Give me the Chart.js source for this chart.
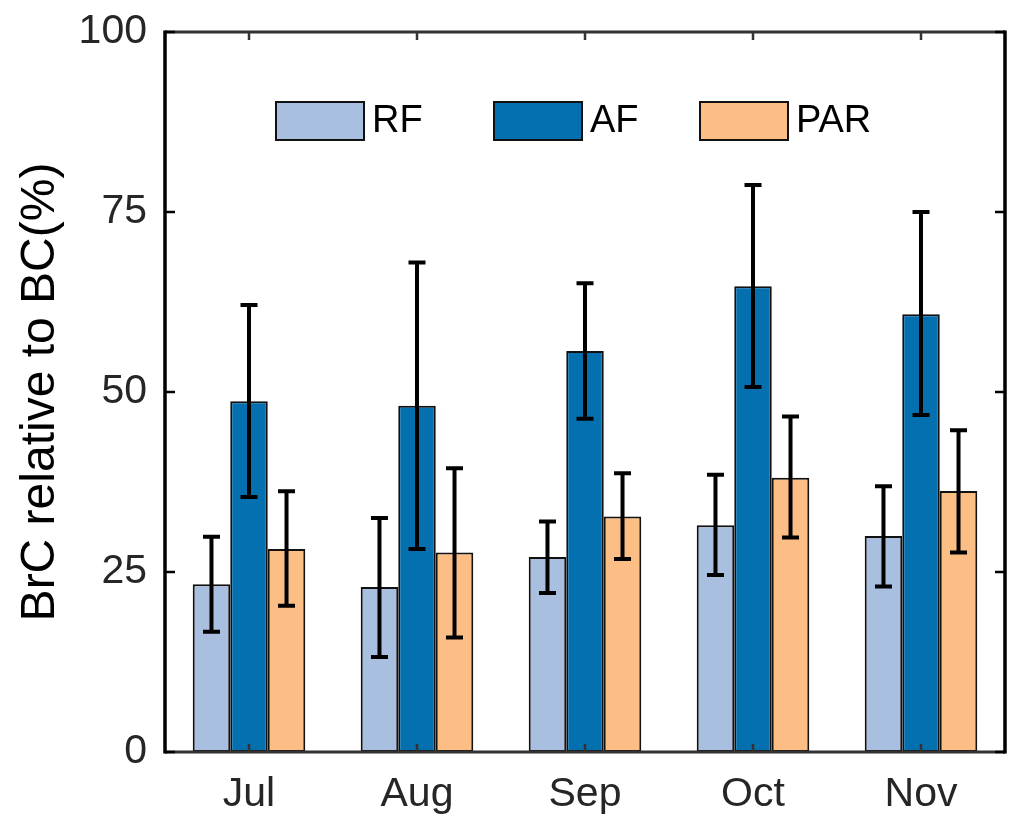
<!DOCTYPE html>
<html>
<head>
<meta charset="utf-8">
<script src="https://cdn.jsdelivr.net/npm/chart.js@4.4.0/dist/chart.umd.min.js"></script>
<style>
  html, body { margin: 0; padding: 0; background: #fff; }
  #wrap { width: 1033px; height: 836px; }
</style>
</head>
<body>
<div id="wrap"><canvas id="myChart"></canvas></div>
<script>
// values (percent)
const months = ['Jul', 'Aug', 'Sep', 'Oct', 'Nov'];
const seriesNames = ['RF', 'AF', 'PAR'];

const rfMean = [23.3, 22.9, 27.1, 31.5, 30.0];
const rfLow  = [16.7, 13.2, 22.1, 24.6, 23.0];
const rfHigh = [29.9, 32.5, 32.0, 38.5, 36.9];

const afMean = [48.7, 48.1, 55.7, 64.7, 60.8];
const afLow  = [35.4, 28.2, 46.3, 50.7, 46.8];
const afHigh = [62.1, 68.0, 65.1, 78.75, 75.0];

const parMean = [28.2, 27.7, 32.7, 38.1, 36.25];
const parLow  = [20.3, 15.9, 26.8, 29.8, 27.7];
const parHigh = [36.2, 39.4, 38.7, 46.6, 44.7];

const yTicks = [0, 25, 50, 75, 100];

const colors = ['#a9bfdf', '#0570b0', '#fdbe85'];
const FONT = '"Liberation Sans", Arial, Helvetica, sans-serif';

const errorBars = [
    { low: rfLow, high: rfHigh },
    { low: afLow, high: afHigh },
    { low: parLow, high: parHigh }
];

// error bars, axis frame with inward ticks, legend inside the plot
const extrasPlugin = {
    id: 'extras',
    afterDatasetsDraw(chart) {
        const ctx = chart.ctx;
        const yScale = chart.scales.y;
        const xScale = chart.scales.x;
        const area = chart.chartArea;

        ctx.save();
        ctx.strokeStyle = '#000';
        ctx.lineWidth = 4;
        errorBars.forEach((eb, i) => {
            const meta = chart.getDatasetMeta(i);
            meta.data.forEach((bar, j) => {
                const yLo = yScale.getPixelForValue(eb.low[j]);
                const yHi = yScale.getPixelForValue(eb.high[j]);
                ctx.beginPath();
                ctx.moveTo(bar.x, yLo);
                ctx.lineTo(bar.x, yHi);
                ctx.moveTo(bar.x - 8.5, yLo);
                ctx.lineTo(bar.x + 8.5, yLo);
                ctx.moveTo(bar.x - 8.5, yHi);
                ctx.lineTo(bar.x + 8.5, yHi);
                ctx.stroke();
            });
        });

        // frame
        ctx.lineWidth = 3;
        ctx.strokeStyle = '#333';
        ctx.beginPath();
        ctx.moveTo(area.left, area.top);
        ctx.lineTo(area.right, area.top);
        ctx.moveTo(area.left, area.bottom);
        ctx.lineTo(area.right, area.bottom);
        ctx.stroke();
        ctx.strokeStyle = '#000';
        ctx.lineWidth = 3.5;
        ctx.beginPath();
        ctx.moveTo(area.left, area.top - 1.5);
        ctx.lineTo(area.left, area.bottom + 1.5);
        ctx.moveTo(area.right, area.top - 1.5);
        ctx.lineTo(area.right, area.bottom + 1.5);
        ctx.stroke();

        // inward ticks
        ctx.lineWidth = 2.5;
        ctx.strokeStyle = '#000';
        ctx.beginPath();
        yTicks.forEach(v => {
            const y = yScale.getPixelForValue(v);
            ctx.moveTo(area.left, y);
            ctx.lineTo(area.left + 10, y);
            ctx.moveTo(area.right, y);
            ctx.lineTo(area.right - 10, y);
        });
        ctx.stroke();
        ctx.strokeStyle = '#333';
        ctx.beginPath();
        months.forEach((m, j) => {
            const x = xScale.getPixelForValue(j);
            ctx.moveTo(x, area.bottom);
            ctx.lineTo(x, area.bottom - 8);
            ctx.moveTo(x, area.top);
            ctx.lineTo(x, area.top + 8);
        });
        ctx.stroke();

        // legend
        const boxW = 88, boxH = 38;
        const boxLeft = [276, 494, 700];
        const boxTop = 102;
        ctx.font = '38px ' + FONT;
        ctx.textBaseline = 'middle';
        ctx.textAlign = 'left';
        chart.data.datasets.forEach((ds, i) => {
            ctx.fillStyle = ds.backgroundColor;
            ctx.fillRect(boxLeft[i], boxTop, boxW, boxH);
            ctx.lineWidth = 2;
            ctx.strokeStyle = '#111';
            ctx.strokeRect(boxLeft[i], boxTop, boxW, boxH);
            ctx.fillStyle = '#000';
            ctx.fillText(ds.label, boxLeft[i] + boxW + 8, boxTop + boxH / 2 + 1);
        });
        ctx.restore();
    }
};

const renderChart = () => {
    const ctx = document.getElementById('myChart').getContext('2d');

    new Chart(ctx, {
        type: 'bar',
        data: {
            labels: months,
            datasets: [
                { label: seriesNames[0], data: rfMean, backgroundColor: colors[0] },
                { label: seriesNames[1], data: afMean, backgroundColor: colors[1] },
                { label: seriesNames[2], data: parMean, backgroundColor: colors[2] }
            ].map(ds => Object.assign(ds, {
                borderColor: '#111',
                borderWidth: 2,
                borderSkipped: false,
                categoryPercentage: 0.67,
                barPercentage: 1.0
            }))
        },
        options: {
            responsive: true,
            maintainAspectRatio: false,
            animation: false,
            layout: { padding: { top: 32, right: 28, left: 0, bottom: 0 } },
            plugins: {
                legend: { display: false },
                tooltip: { enabled: false }
            },
            scales: {
                x: {
                    grid: { display: false, drawTicks: false },
                    border: { display: false },
                    ticks: {
                        color: '#262626',
                        font: { family: FONT, size: 41 },
                        padding: 18
                    },
                    afterFit: (scale) => { scale.height = 84; }
                },
                y: {
                    min: 0,
                    max: 100,
                    afterBuildTicks: (scale) => {
                        scale.ticks = yTicks.map(v => ({ value: v }));
                    },
                    grid: { display: false, drawTicks: false },
                    border: { display: false },
                    ticks: {
                        color: '#262626',
                        font: { family: FONT, size: 41, lineHeight: 0.5 },
                        padding: 18
                    },
                    title: {
                        display: true,
                        text: 'BrC relative to BC(%)',
                        color: '#000',
                        font: { family: FONT, size: 48 },
                        padding: { top: 12, bottom: 0 }
                    },
                    afterFit: (scale) => { scale.width = 165; }
                }
            }
        },
        plugins: [extrasPlugin]
    });
};

document.addEventListener('DOMContentLoaded', renderChart);
</script>
</body>
</html>
